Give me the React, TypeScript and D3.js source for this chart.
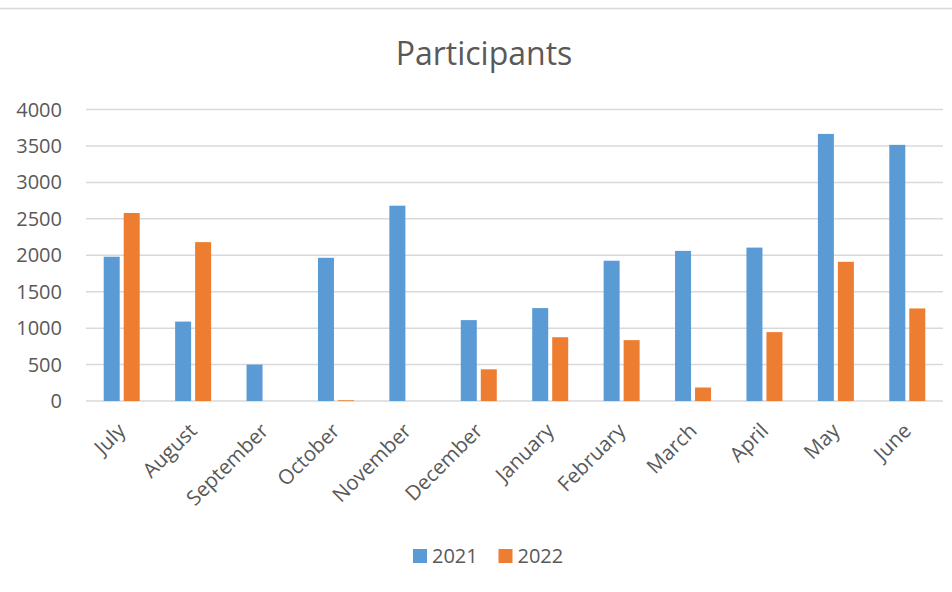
import React from "react";
import * as d3 from "d3";

const months = ["July", "August", "September", "October", "November", "December", "January", "February", "March", "April", "May", "June"];
const series2021 = [1980, 1090, 500, 1965, 2680, 1110, 1275, 1925, 2060, 2105, 3665, 3515];
const series2022 = [2580, 2180, 0, 10, 0, 435, 875, 835, 185, 945, 1910, 1270];
const seriesNames = ["2021", "2022"];
const seriesColors = ["#5b9bd5", "#ed7d31"];
const yTicks = [0, 500, 1000, 1500, 2000, 2500, 3000, 3500, 4000];

const W = 952, H = 592;
const FONT = "'Open Sans', 'Liberation Sans', sans-serif";
const TEXT = "#595959";
const GRID = "#d9d9d9";

export default function App() {
  const x = d3.scaleBand<string>().domain(months).range([86, 943]).paddingInner(0).paddingOuter(0);
  const y = d3.scaleLinear().domain([0, 4000]).range([401, 109.5]);
  const barW = 16;
  const gap = 4;
  const data = [series2021, series2022];

  return (
    <svg width={W} height={H} style={{ position: "absolute", left: 0, top: 0, background: "#fff" }} fontFamily={FONT}>
      <rect x={0} y={0} width={W} height={H} fill="#fff" />
      <line x1={0} x2={W} y1={8.5} y2={8.5} stroke={GRID} strokeWidth={1.5} />
      <text x={484} y={65} textAnchor="middle" fontSize={32} fill={TEXT}>Participants</text>
      {yTicks.map((t) => (
        <g key={t}>
          <line x1={86} x2={943} y1={y(t)} y2={y(t)} stroke={GRID} strokeWidth={1.5} />
          <text x={62} y={y(t)} dy="0.35em" textAnchor="end" fontSize={20} fill={TEXT}>{t}</text>
        </g>
      ))}
      {data.map((vals, si) =>
        vals.map((v, i) => {
          const cx = (x(months[i]) as number) + x.bandwidth() / 2;
          const bx = si === 0 ? cx - gap / 2 - barW : cx + gap / 2;
          const top = y(v);
          return (
            <rect key={`${si}-${i}`} x={bx} y={top} width={barW} height={Math.max(0, y(0) - top)} fill={seriesColors[si]} />
          );
        })
      )}
      {months.map((m) => {
        const cx = (x(m) as number) + x.bandwidth() / 2;
        return (
          <text key={m} transform={`translate(${cx},${427}) rotate(-45)`} textAnchor="end" dy="0.35em" fontSize={20.5} fill={TEXT}>{m}</text>
        );
      })}
      <g>
        <rect x={413} y={549} width={14} height={14} fill={seriesColors[0]} />
        <text x={432} y={556} dy="0.35em" fontSize={20} fill={TEXT}>{seriesNames[0]}</text>
        <rect x={498.5} y={549} width={14} height={14} fill={seriesColors[1]} />
        <text x={517.5} y={556} dy="0.35em" fontSize={20} fill={TEXT}>{seriesNames[1]}</text>
      </g>
    </svg>
  );
}
